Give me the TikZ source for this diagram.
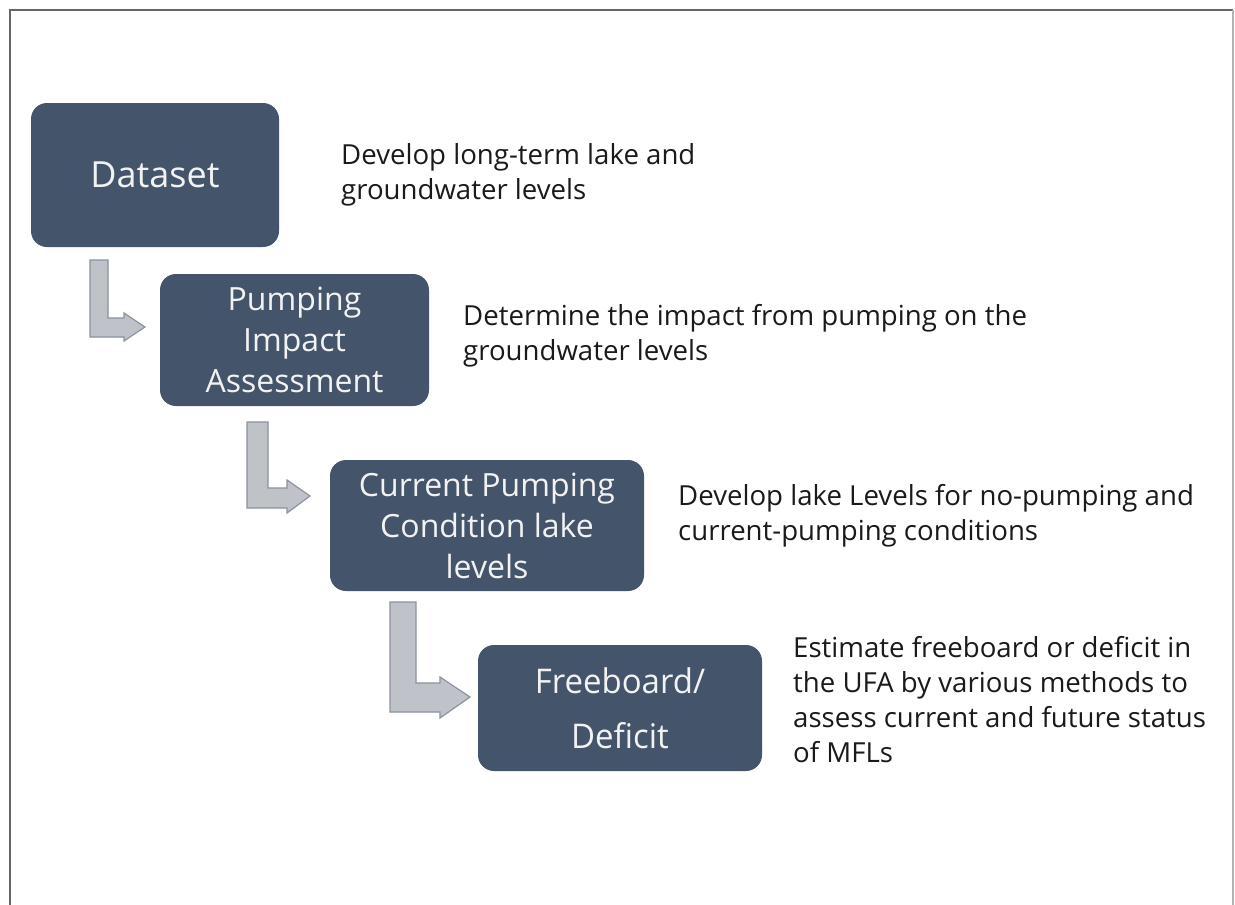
\documentclass[tikz,border=0pt]{standalone}
\usepackage{fontspec}
\setmainfont{Open Sans}
\definecolor{boxblue}{HTML}{44546A}
\definecolor{arrowfill}{HTML}{BFC3C9}
\definecolor{arrowline}{HTML}{8A939E}
\definecolor{boxtext}{HTML}{F2F2F2}
\definecolor{desctext}{HTML}{1A1A1A}
\begin{document}
\begin{tikzpicture}[x=1pt,y=-1pt,
  stepbox/.style={fill=boxblue, rounded corners=16pt, text=boxtext, align=center, inner sep=0pt, anchor=center},
  desc/.style={anchor=north west, align=left, text=desctext, inner sep=0pt, font=\fontsize{27.6}{35}\selectfont},
  bentarrow/.style={fill=arrowfill, draw=arrowline, line width=1.2pt, line join=miter}]
\useasboundingbox (0,0) rectangle (1235,905);
\fill[white] (0,0) rectangle (1235,905);
% frame
\draw[gray!80!black, line width=1.5pt] (10,905) -- (10,10) -- (1233,10);
\draw[gray!60, line width=1.2pt] (1233,10) -- (1233,905);
% boxes
\node[stepbox, minimum width=248pt, minimum height=144pt, font=\fontsize{36}{42}\selectfont] (dataset) at (155,175) {Dataset};
\node[stepbox, minimum width=269pt, minimum height=132pt, font=\fontsize{32}{41}\selectfont] (pumping) at (294.5,340) {Pumping\\Impact\\Assessment};
\node[stepbox, minimum width=314pt, minimum height=131pt, font=\fontsize{32}{41}\selectfont] (current) at (487,525.5) {Current Pumping\\Condition lake\\levels};
\node[stepbox, minimum width=284pt, minimum height=126pt, font=\fontsize{34}{55}\selectfont] (free) at (620,708) {\scalebox{0.97}[1]{Freeboard/}\\\scalebox{0.97}[1]{Deficit}};
% descriptions
\node[desc] (d1) at (341,143) {Develop long-term lake and\\groundwater levels};
\node[desc] (d2) at (463,304) {Determine the impact from pumping on the\\groundwater levels};
\node[desc] (d3) at (678,484) {Develop lake Levels for no-pumping and\\current-pumping conditions};
\node[desc] (d4) at (793,636) {Estimate freeboard or deficit in\\the UFA by various methods to\\assess current and future status\\of MFLs};
% bent arrows
\draw[bentarrow] (90,260) -- (108,260) -- (108,318) -- (124,318) -- (124,313) -- (145,327) -- (124,341) -- (124,337) -- (90,337) -- cycle;
\draw[bentarrow] (247,422) -- (268,422) -- (268,488) -- (287,488) -- (287,480) -- (310,496) -- (287,513) -- (287,508) -- (247,508) -- cycle;
\draw[bentarrow] (390,602) -- (416,602) -- (416,683) -- (440,683) -- (440,677) -- (470,697) -- (440,718) -- (440,712) -- (390,712) -- cycle;
\end{tikzpicture}
\end{document}
